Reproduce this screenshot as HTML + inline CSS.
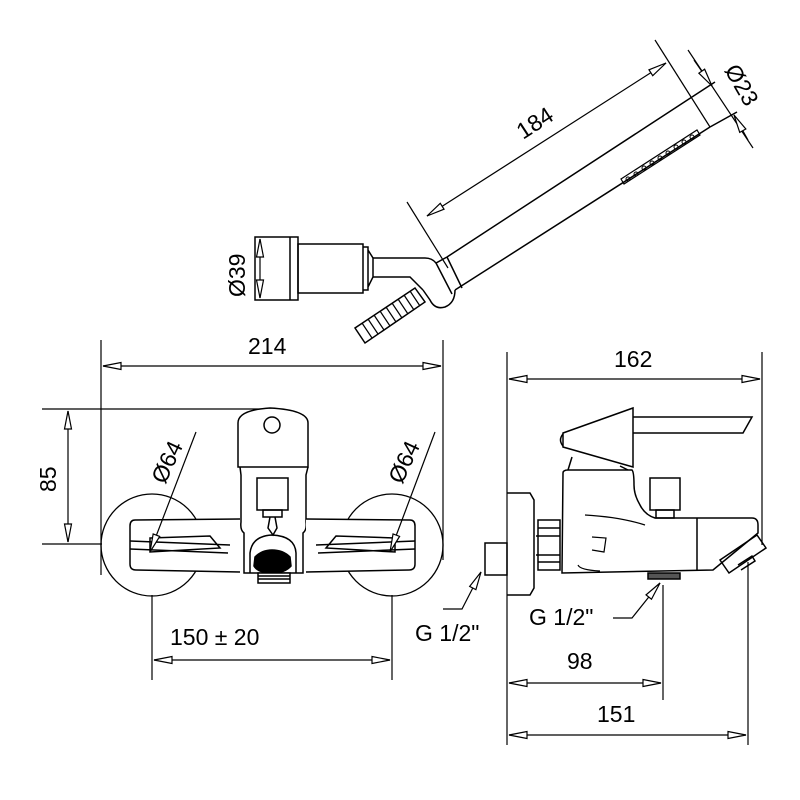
<!DOCTYPE html>
<html><head><meta charset="utf-8"><style>html,body{margin:0;padding:0;background:#fff}svg{display:block}text{font-family:"Liberation Sans",Arial,sans-serif;font-size:23px;fill:#000}</style></head><body>
<svg width="800" height="800" viewBox="0 0 800 800" xmlns="http://www.w3.org/2000/svg">
<defs>
<marker id="a" viewBox="0 0 20 10" refX="19" refY="5" markerWidth="20" markerHeight="10" markerUnits="userSpaceOnUse" orient="auto-start-reverse">
<path d="M19,5 L1,1.5 L1,8.5 Z" fill="#fff" stroke="#000" stroke-width="1.2"/></marker>
</defs>
<g fill="none" stroke="#000" stroke-width="1.5">
<!-- ===== Shower head ===== -->
<rect x="255" y="237" width="43" height="63"/>
<line x1="290" y1="237" x2="290" y2="300"/>
<rect x="298" y="244" width="65" height="49"/>
<path d="M363,247 H368 V290 H363 M368,250 L373,258 V277 L368,287"/>
<path d="M373,258 H425 Q432,258 436,263 L447,257"/>
<path d="M373,277 H410 L423,290"/>
<path d="M436,263 L452,294 M447,257 L462,288"/>
<path d="M423,290 L430,300 Q435,310 445,307 Q455,303 455,290"/>
<line x1="447" y1="257" x2="692" y2="97"/>
<line x1="455" y1="290" x2="710" y2="127"/>
<line x1="692" y1="97" x2="715" y2="82"/>
<line x1="710" y1="127" x2="737" y2="112"/>
<path d="M415,288 L425,302 L365,343 L355,328 Z"/>
<g stroke-width="1.2">
<line x1="362" y1="323" x2="372" y2="338"/><line x1="368" y1="319" x2="378" y2="334"/>
<line x1="374" y1="315" x2="384" y2="330"/><line x1="380" y1="311" x2="390" y2="326"/>
<line x1="386" y1="307" x2="396" y2="322"/><line x1="392" y1="303" x2="402" y2="318"/>
<line x1="398" y1="299" x2="408" y2="314"/><line x1="404" y1="295" x2="414" y2="310"/>
<line x1="410" y1="291" x2="420" y2="306"/>
</g>
<path d="M621,179 L697,130 L700,135 L624,184 Z" stroke-width="1.2"/>
<g stroke-width="1">
<circle cx="628" cy="179" r="2"/><circle cx="636" cy="174" r="2"/><circle cx="644" cy="168" r="2"/><circle cx="652" cy="163" r="2"/><circle cx="660" cy="158" r="2"/><circle cx="668" cy="153" r="2"/><circle cx="676" cy="147" r="2"/><circle cx="684" cy="142" r="2"/><circle cx="692" cy="137" r="2"/>
</g>
<line x1="655" y1="40" x2="710" y2="127" stroke-width="1.2"/>
<line x1="407" y1="202" x2="448" y2="268" stroke-width="1.2"/>
<line x1="427" y1="216" x2="666" y2="63" marker-start="url(#a)" marker-end="url(#a)" stroke-width="1.2"/>
<line x1="688" y1="50" x2="753" y2="148" stroke-width="1.2"/>
<line x1="694" y1="60" x2="712" y2="86" marker-end="url(#a)" stroke-width="1.2"/>
<line x1="748" y1="140" x2="734" y2="115" marker-end="url(#a)" stroke-width="1.2"/>
<line x1="260" y1="239" x2="260" y2="298" marker-start="url(#a)" marker-end="url(#a)" stroke-width="1.2"/>

<!-- ===== Front view ===== -->
<line x1="101" y1="340" x2="101" y2="575" stroke-width="1.2"/>
<line x1="443" y1="340" x2="443" y2="560" stroke-width="1.2"/>
<line x1="103" y1="366" x2="441" y2="366" marker-start="url(#a)" marker-end="url(#a)" stroke-width="1.2"/>
<line x1="42" y1="409" x2="270" y2="409" stroke-width="1.2"/>
<line x1="42" y1="544" x2="102" y2="544" stroke-width="1.2"/>
<line x1="68" y1="411" x2="68" y2="542" marker-start="url(#a)" marker-end="url(#a)" stroke-width="1.2"/>
<circle cx="152" cy="545" r="51" stroke-width="1.3"/>
<circle cx="392" cy="545" r="51" stroke-width="1.3"/>
<line x1="152" y1="595" x2="152" y2="680" stroke-width="1.2"/>
<line x1="392" y1="595" x2="392" y2="680" stroke-width="1.2"/>
<line x1="154" y1="660" x2="390" y2="660" marker-start="url(#a)" marker-end="url(#a)" stroke-width="1.2"/>
<path d="M238,467 V423 Q238,410 270,408 Q308,410 308,423 V467 Z" fill="#fff"/>
<circle cx="272" cy="425" r="8"/>
<path d="M240,467 L241,475 V522 Q240,530 244,533 V573 H303 V533 Q307,530 306,522 V475 L308,467"/>
<rect x="257" y="478" width="31" height="32"/>
<rect x="263" y="510" width="19" height="7"/>
<path d="M270,517 L268,528 L273,535 L277,528 L275,517"/>
<path d="M250,573 V553 Q252,536 272,535 Q295,536 296,553 V573"/>
<path d="M255,557 Q262,550 272,550 Q283,550 290,557 L291,566 Q285,573 272,573 Q258,573 254,566 Z" fill="#000"/>
<rect x="258" y="573" width="32" height="10" fill="#fff"/>
<path d="M258,576 H290 M258,579 H290" stroke-width="1.5"/>
<path d="M240,519 L135,520 Q130,520 130,526 V564 Q130,570 136,570 L240,572" fill="#fff"/>
<path d="M130,541 L230,545 M130,549 L228,553"/>
<path d="M150,538 L210,536 L220,548 L150,552 Z"/>
<path d="M306,519 L410,520 Q415,520 415,526 V564 Q415,570 409,570 L306,572" fill="#fff"/>
<path d="M415,541 L316,545 M415,549 L318,553"/>
<path d="M395,538 L336,536 L326,548 L395,552 Z"/>
<line x1="196" y1="432" x2="150" y2="552" marker-end="url(#a)" stroke-width="1.2"/>
<line x1="435" y1="432" x2="390" y2="552" marker-end="url(#a)" stroke-width="1.2"/>

<!-- ===== Side view ===== -->
<line x1="507" y1="352" x2="507" y2="745" stroke-width="1.2"/>
<line x1="762" y1="352" x2="762" y2="545" stroke-width="1.2"/>
<line x1="509" y1="379" x2="760" y2="379" marker-start="url(#a)" marker-end="url(#a)" stroke-width="1.2"/>
<line x1="663" y1="585" x2="663" y2="700" stroke-width="1.2"/>
<line x1="748" y1="562" x2="748" y2="745" stroke-width="1.2"/>
<line x1="509" y1="683" x2="661" y2="683" marker-start="url(#a)" marker-end="url(#a)" stroke-width="1.2"/>
<line x1="509" y1="735" x2="746" y2="735" marker-start="url(#a)" marker-end="url(#a)" stroke-width="1.2"/>
<path d="M507,493 H530 L534,500 V588 L530,595 H507"/>
<rect x="485" y="543" width="22" height="32"/>
<path d="M538,520 H560 V570 H538 Z M538,528 H560 M538,562 H560 M536,536 H560 M536,555 H560"/>
<path d="M563,473 Q563,470 568,470 H632 Q634,472 634,485 Q634,495 640,505 Q645,515 655,518 H752 Q758,518 758,525 L758,533 L713,570 L562,573 Z" fill="#fff"/>
<line x1="697" y1="518" x2="697" y2="570"/>
<path d="M585,515 Q620,517 645,525" stroke-width="1.2"/>
<path d="M592,537 L606,538 L604,552 L592,550" stroke-width="1.2"/>
<path d="M578,565 Q580,570 600,571" stroke-width="1.2"/>
<rect x="650" y="478" width="30" height="32"/>
<rect x="656" y="510" width="18" height="8"/>
<path d="M572,457 L568,470 M620,466 L628,470"/>
<path d="M563,433 L633,408 V467 L563,447 Z" fill="#fff"/>
<path d="M563,434 Q558,440 563,446"/>
<path d="M633,417 H752 L743,433 H633"/>
<path d="M720,560 L757,535 L766,548 L729,573 Z"/>
<path d="M738,565 L752,556 L755,561 L741,570"/>
<rect x="648" y="573" width="32" height="6" fill="#555"/>
<path d="M443,609 H462 L481,572" stroke-width="1.2" marker-end="url(#a)"/>
<path d="M613,618 H632 L660,583" stroke-width="1.2" marker-end="url(#a)"/>
</g>
<text x="248" y="354">214</text>
<text x="614" y="367">162</text>
<text x="170" y="645">150 ± 20</text>
<text x="567" y="669">98</text>
<text x="597" y="722">151</text>
<text x="415" y="641">G 1/2"</text>
<text x="529" y="625">G 1/2"</text>
<text transform="translate(56,492) rotate(-90)">85</text>
<text transform="translate(245,297) rotate(-90)">Ø39</text>
<text transform="translate(523,140) rotate(-33)">184</text>
<text transform="translate(724,70) rotate(60)">Ø23</text>
<text transform="translate(165,485) rotate(-65)">Ø64</text>
<text transform="translate(402,485) rotate(-65)">Ø64</text>
</svg>
</body></html>
